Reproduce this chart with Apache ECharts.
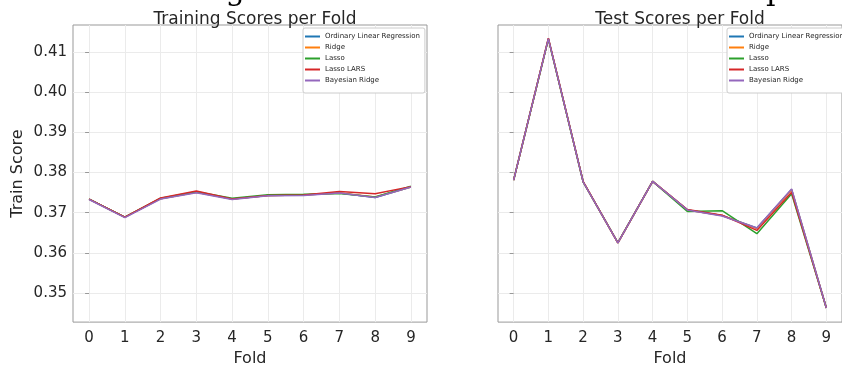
<!DOCTYPE html>
<html>
<head>
<meta charset="utf-8">
<script src="https://cdn.jsdelivr.net/npm/echarts@6/dist/echarts.min.js"></script>
<style>
  html, body { margin: 0; padding: 0; background: #fff; }
  #chart { width: 842px; height: 372px; }
</style>
</head>
<body>
<div id="chart"></div>
<script>
// Cross-validation folds
const folds = [0, 1, 2, 3, 4, 5, 6, 7, 8, 9];
const modelNames = ['Ordinary Linear Regression', 'Ridge', 'Lasso', 'Lasso LARS', 'Bayesian Ridge'];
const yTicks = [0.35, 0.36, 0.37, 0.38, 0.39, 0.40, 0.41];
const suptitle = 'Training Scores and Held-Out Test Scores per Split';

// Training scores per fold, one array per model
const trainOLS      = [0.3734, 0.3689, 0.3735, 0.3751, 0.3734, 0.3743, 0.3744, 0.3749, 0.3738, 0.3764];
const trainRidge    = [0.3734, 0.3689, 0.3735, 0.3751, 0.3734, 0.3743, 0.3744, 0.3749, 0.3739, 0.3764];
const trainLasso    = [0.3734, 0.3689, 0.3736, 0.3752, 0.3736, 0.3745, 0.3746, 0.3748, 0.3739, 0.3766];
const trainLassoLars= [0.3734, 0.3689, 0.3737, 0.3754, 0.3734, 0.3743, 0.3744, 0.3753, 0.3747, 0.3765];
const trainBayes    = [0.3733, 0.3688, 0.3734, 0.3750, 0.3733, 0.3742, 0.3743, 0.3749, 0.3738, 0.3764];

// Test scores per fold, one array per model
const testOLS       = [0.3781, 0.4133, 0.3777, 0.3625, 0.3778, 0.3707, 0.3693, 0.3662, 0.3758, 0.3463];
const testRidge     = [0.3781, 0.4133, 0.3777, 0.3625, 0.3778, 0.3707, 0.3693, 0.3661, 0.3757, 0.3463];
const testLasso     = [0.3781, 0.4132, 0.3777, 0.3626, 0.3778, 0.3703, 0.3705, 0.3648, 0.3747, 0.3463];
const testLassoLars = [0.3781, 0.4134, 0.3778, 0.3625, 0.3778, 0.3708, 0.3694, 0.3656, 0.3751, 0.3463];
const testBayes     = [0.3781, 0.4133, 0.3777, 0.3625, 0.3778, 0.3707, 0.3692, 0.3662, 0.3759, 0.3463];

const colors = ['#1f77b4', '#ff7f0e', '#2ca02c', '#d62728', '#9467bd'];
const FONT = '"DejaVu Sans", sans-serif';
const SERIF = '30px "DejaVu Serif", serif';
const TEXT = '#262626';
const FRAME = '#999999';
const GRIDLINE = '#ebebeb';

const trainSets = [trainOLS, trainRidge, trainLasso, trainLassoLars, trainBayes];
const testSets  = [testOLS, testRidge, testLasso, testLassoLars, testBayes];

function pairs(vals) { return folds.map((f, i) => [f, vals[i]]); }

// Horizontal start of the figure title, placed so that "per" begins at x = 766
function suptitleStart() {
  const ctx = document.createElement('canvas').getContext('2d');
  ctx.font = SERIF;
  const head = suptitle.slice(0, suptitle.indexOf(' per ') + 1);
  return 766 - ctx.measureText(head).width;
}

function xAxisFor(gridIndex) {
  return {
    type: 'value', gridIndex, min: -0.45, max: 9.45,
    name: 'Fold', nameLocation: 'middle', nameGap: 27,
    nameTextStyle: { fontFamily: FONT, fontSize: 16, color: TEXT },
    axisLine: { show: false },
    axisTick: { show: false, customValues: folds },
    axisLabel: { customValues: folds, fontFamily: FONT, fontSize: 15, color: TEXT, margin: 9,
                 formatter: v => String(Math.round(v)) },
    splitLine: { show: true, lineStyle: { color: GRIDLINE, width: 1 } }
  };
}

function yAxisFor(gridIndex, showLabels) {
  return {
    type: 'value', gridIndex, min: 0.3428, max: 0.4167,
    name: showLabels ? 'Train Score' : '', nameLocation: 'middle', nameGap: 47, nameRotate: 90,
    nameTextStyle: { fontFamily: FONT, fontSize: 16, color: TEXT },
    axisLine: { show: false },
    axisTick: { show: true, customValues: yTicks, length: 4, lineStyle: { color: FRAME } },
    axisLabel: { show: showLabels, customValues: yTicks, fontFamily: FONT, fontSize: 15, color: TEXT,
                 margin: 6, formatter: v => v.toFixed(2) },
    splitLine: { show: true, lineStyle: { color: GRIDLINE, width: 1 } }
  };
}

function legendFor(left) {
  return {
    orient: 'vertical', left, top: 28, data: modelNames,
    icon: 'rect', itemWidth: 15, itemHeight: 2, itemGap: 2,
    padding: [4, 5, 8, 2],
    backgroundColor: '#fff', borderColor: '#cccccc', borderWidth: 1, borderRadius: 2,
    textStyle: { fontFamily: FONT, fontSize: 7, color: TEXT, lineHeight: 9 },
    selectedMode: false
  };
}

const series = [];
modelNames.forEach((name, k) => {
  series.push({ name, type: 'line', xAxisIndex: 0, yAxisIndex: 0, data: pairs(trainSets[k]),
    showSymbol: false, color: colors[k], lineStyle: { width: 1.5, color: colors[k] }, z: 2 + k });
  series.push({ name, type: 'line', xAxisIndex: 1, yAxisIndex: 1, data: pairs(testSets[k]),
    showSymbol: false, color: colors[k], lineStyle: { width: 1.5, color: colors[k] }, z: 2 + k });
});

const chart = echarts.init(document.getElementById('chart'), null, { renderer: 'canvas' });
chart.setOption({
  animation: false,
  backgroundColor: '#ffffff',
  color: colors,
  title: [
    { text: 'Training Scores per Fold', left: 250, top: 6, textAlign: 'center',
      textStyle: { fontFamily: FONT, fontSize: 17, fontWeight: 'normal', color: TEXT } },
    { text: 'Test Scores per Fold', left: 675, top: 6, textAlign: 'center',
      textStyle: { fontFamily: FONT, fontSize: 17, fontWeight: 'normal', color: TEXT } }
  ],
  graphic: [{
    type: 'text', silent: true, z: 100,
    style: { text: suptitle, x: suptitleStart(), y: 7,
             textAlign: 'left', textVerticalAlign: 'bottom',
             font: SERIF, fill: '#000' }
  }],
  grid: [
    { left: 73, top: 25, width: 354, height: 304, show: true, borderColor: FRAME, borderWidth: 1, backgroundColor: '#fff' },
    { left: 498, top: 25, width: 354, height: 304, show: true, borderColor: FRAME, borderWidth: 1, backgroundColor: '#fff' }
  ],
  xAxis: [xAxisFor(0), xAxisFor(1)],
  yAxis: [yAxisFor(0, true), yAxisFor(1, false)],
  legend: [legendFor(303), legendFor(727)],
  series
});
</script>
</body>
</html>
